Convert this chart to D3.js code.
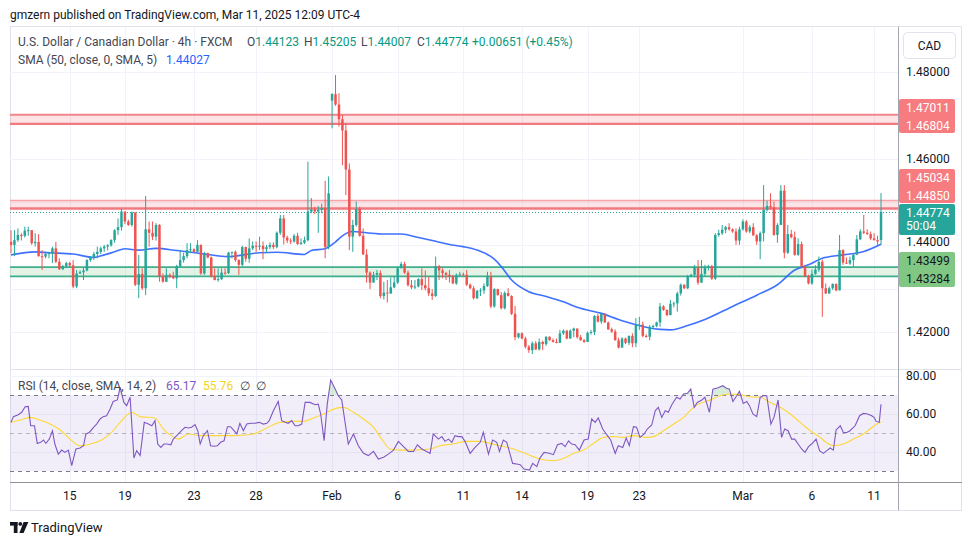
<!DOCTYPE html>
<html><head><meta charset="utf-8">
<script src="https://cdn.jsdelivr.net/npm/d3@7/dist/d3.min.js"></script>
<style>html,body{margin:0;padding:0;background:#fff}svg{display:block}</style>
</head><body>
<svg id="chart" width="970" height="545"></svg>
<script>
// ================= DATA (USD/CAD, 4h, FXCM) =================
const openP=[
1.4408,1.4401,1.4412,1.4424,1.4422,1.4434,1.4435,1.4405,1.4408,1.4375,
1.4374,1.4380,1.4382,1.4393,1.4362,1.4345,1.4352,1.4359,1.4354,1.4305,
1.4335,1.4338,1.4342,1.4366,1.4372,1.4380,1.4385,1.4393,1.4397,1.4400,
1.4412,1.4435,1.4442,1.4478,1.4455,1.4447,1.4476,1.4309,1.4334,1.4301,
1.4437,1.4429,1.4420,1.4447,1.4328,1.4316,1.4332,1.4328,1.4324,1.4352,
1.4366,1.4375,1.4389,1.4391,1.4385,1.4401,1.4335,1.4382,1.4372,1.4328,
1.4320,1.4322,1.4337,1.4336,1.4383,1.4385,1.4366,1.4355,1.4396,1.4369,
1.4393,1.4399,1.4397,1.4399,1.4391,1.4396,1.4401,1.4396,1.4429,1.4462,
1.4418,1.4411,1.4409,1.4422,1.4403,1.4406,1.4412,1.4478,1.4483,1.4478,
1.4482,1.4486,1.4396,1.4734,1.4749,1.4725,1.4691,1.4665,1.4575,1.4420,
1.4447,1.4484,1.4422,1.4379,1.4337,1.4314,1.4332,1.4336,1.4283,1.4291,
1.4289,1.4303,1.4314,1.4347,1.4357,1.4337,1.4308,1.4303,1.4305,1.4322,
1.4308,1.4301,1.4289,1.4283,1.4352,1.4342,1.4336,1.4332,1.4328,1.4312,
1.4332,1.4333,1.4332,1.4309,1.4301,1.4278,1.4295,1.4296,1.4306,1.4328,
1.4259,1.4299,1.4285,1.4255,1.4290,1.4283,1.4242,1.4188,1.4197,1.4185,
1.4166,1.4158,1.4174,1.4160,1.4177,1.4172,1.4189,1.4181,1.4177,1.4175,
1.4197,1.4203,1.4185,1.4203,1.4208,1.4188,1.4181,1.4177,1.4198,1.4200,
1.4237,1.4224,1.4242,1.4222,1.4206,1.4201,1.4181,1.4164,1.4185,1.4175,
1.4191,1.4174,1.4216,1.4217,1.4191,1.4189,1.4212,1.4214,1.4222,1.4259,
1.4251,1.4239,1.4265,1.4266,1.4289,1.4309,1.4301,1.4329,1.4332,1.4349,
1.4314,1.4334,1.4349,1.4352,1.4323,1.4424,1.4428,1.4436,1.4442,1.4437,
1.4432,1.4411,1.4437,1.4455,1.4432,1.4442,1.4423,1.4409,1.4428,1.4482,
1.4491,1.4488,1.4424,1.4447,1.4526,1.4383,1.4426,1.4419,1.4378,1.4403,
1.4351,1.4329,1.4312,1.4334,1.4344,1.4362,1.4301,1.4289,1.4301,1.4311,
1.4296,1.4389,1.4360,1.4358,1.4366,1.4378,1.4414,1.4432,1.4429,1.4426,
1.4416,1.4412,1.44123];
const highP=[
1.4435,1.4435,1.4439,1.4428,1.4443,1.4443,1.4435,1.4428,1.4426,1.4389,
1.4383,1.4385,1.4397,1.4408,1.4370,1.4355,1.4362,1.4362,1.4366,1.4343,
1.4342,1.4349,1.4368,1.4375,1.4385,1.4397,1.4397,1.4401,1.4403,1.4414,
1.4437,1.4462,1.4484,1.4478,1.4459,1.4478,1.4476,1.4378,1.4347,1.4514,
1.4455,1.4455,1.4451,1.4449,1.4335,1.4347,1.4335,1.4339,1.4355,1.4388,
1.4383,1.4405,1.4405,1.4393,1.4412,1.4402,1.4385,1.4383,1.4374,1.4347,
1.4347,1.4347,1.4347,1.4385,1.4385,1.4388,1.4368,1.4399,1.4397,1.4416,
1.4409,1.4409,1.4420,1.4409,1.4401,1.4407,1.4407,1.4432,1.4470,1.4470,
1.4422,1.4416,1.4426,1.4429,1.4416,1.4420,1.4593,1.4509,1.4489,1.4491,
1.4496,1.4549,1.4559,1.4751,1.4793,1.4751,1.4701,1.4682,1.4589,1.4459,
1.4501,1.4489,1.4439,1.4391,1.4340,1.4339,1.4343,1.4342,1.4316,1.4320,
1.4326,1.4328,1.4351,1.4362,1.4362,1.4342,1.4320,1.4320,1.4324,1.4347,
1.4342,1.4328,1.4299,1.4374,1.4355,1.4347,1.4339,1.4343,1.4332,1.4335,
1.4339,1.4337,1.4343,1.4312,1.4306,1.4297,1.4301,1.4312,1.4339,1.4339,
1.4301,1.4300,1.4292,1.4294,1.4301,1.4285,1.4260,1.4198,1.4199,1.4189,
1.4170,1.4178,1.4179,1.4185,1.4180,1.4190,1.4190,1.4185,1.4185,1.4205,
1.4206,1.4205,1.4206,1.4210,1.4208,1.4193,1.4184,1.4201,1.4205,1.4239,
1.4242,1.4243,1.4243,1.4224,1.4210,1.4206,1.4187,1.4188,1.4187,1.4192,
1.4197,1.4232,1.4235,1.4224,1.4195,1.4216,1.4217,1.4224,1.4267,1.4262,
1.4252,1.4274,1.4270,1.4293,1.4312,1.4310,1.4332,1.4334,1.4355,1.4366,
1.4366,1.4355,1.4355,1.4355,1.4428,1.4436,1.4447,1.4445,1.4451,1.4439,
1.4439,1.4443,1.4460,1.4458,1.4447,1.4451,1.4426,1.4432,1.4539,1.4503,
1.4520,1.4501,1.4451,1.4539,1.4539,1.4447,1.4436,1.4432,1.4416,1.4409,
1.4355,1.4332,1.4344,1.4354,1.4374,1.4367,1.4312,1.4305,1.4312,1.4312,
1.4424,1.4391,1.4372,1.4374,1.4381,1.4424,1.4437,1.4470,1.4437,1.4432,
1.4428,1.4422,1.45205];
const lowP=[
1.4382,1.4375,1.4408,1.4411,1.4418,1.4422,1.4401,1.4397,1.4374,1.4343,
1.4370,1.4370,1.4359,1.4359,1.4343,1.4343,1.4348,1.4349,1.4301,1.4301,
1.4334,1.4320,1.4340,1.4362,1.4366,1.4370,1.4380,1.4385,1.4388,1.4397,
1.4406,1.4424,1.4434,1.4449,1.4445,1.4443,1.4306,1.4278,1.4297,1.4285,
1.4397,1.4412,1.4411,1.4316,1.4314,1.4315,1.4324,1.4322,1.4301,1.4349,
1.4360,1.4370,1.4382,1.4383,1.4383,1.4332,1.4332,1.4370,1.4326,1.4319,
1.4316,1.4320,1.4332,1.4334,1.4370,1.4362,1.4332,1.4352,1.4362,1.4360,
1.4389,1.4385,1.4389,1.4368,1.4382,1.4391,1.4391,1.4393,1.4424,1.4402,
1.4405,1.4403,1.4406,1.4401,1.4401,1.4403,1.4409,1.4474,1.4472,1.4429,
1.4474,1.4370,1.4391,1.4670,1.4722,1.4674,1.4585,1.4516,1.4389,1.4385,
1.4443,1.4420,1.4378,1.4314,1.4299,1.4314,1.4320,1.4278,1.4275,1.4268,
1.4288,1.4301,1.4311,1.4347,1.4334,1.4305,1.4299,1.4299,1.4303,1.4297,
1.4296,1.4283,1.4274,1.4281,1.4320,1.4324,1.4320,1.4314,1.4311,1.4309,
1.4328,1.4329,1.4306,1.4299,1.4275,1.4276,1.4283,1.4288,1.4304,1.4255,
1.4256,1.4284,1.4252,1.4252,1.4282,1.4239,1.4181,1.4185,1.4183,1.4162,
1.4152,1.4149,1.4158,1.4157,1.4158,1.4168,1.4180,1.4176,1.4174,1.4175,
1.4193,1.4183,1.4184,1.4188,1.4185,1.4180,1.4175,1.4178,1.4194,1.4193,
1.4222,1.4219,1.4221,1.4205,1.4198,1.4180,1.4162,1.4164,1.4172,1.4170,
1.4165,1.4165,1.4205,1.4188,1.4187,1.4181,1.4208,1.4211,1.4212,1.4249,
1.4237,1.4239,1.4257,1.4247,1.4284,1.4299,1.4299,1.4326,1.4326,1.4309,
1.4313,1.4329,1.4342,1.4320,1.4320,1.4420,1.4424,1.4428,1.4434,1.4429,
1.4401,1.4401,1.4434,1.4429,1.4428,1.4422,1.4401,1.4368,1.4409,1.4478,
1.4483,1.4422,1.4406,1.4447,1.4370,1.4380,1.4416,1.4376,1.4376,1.4347,
1.4326,1.4310,1.4309,1.4332,1.4339,1.4235,1.4288,1.4288,1.4297,1.4294,
1.4296,1.4355,1.4357,1.4355,1.4351,1.4382,1.4412,1.4426,1.4424,1.4412,
1.4411,1.4401,1.44007];
const closeP=[
1.4401,1.4412,1.4424,1.4422,1.4434,1.4435,1.4405,1.4408,1.4375,1.4374,
1.4380,1.4382,1.4393,1.4362,1.4345,1.4352,1.4359,1.4354,1.4305,1.4335,
1.4338,1.4342,1.4366,1.4372,1.4380,1.4385,1.4393,1.4397,1.4400,1.4412,
1.4435,1.4442,1.4478,1.4455,1.4447,1.4476,1.4309,1.4334,1.4301,1.4437,
1.4429,1.4420,1.4447,1.4328,1.4316,1.4332,1.4328,1.4324,1.4352,1.4366,
1.4375,1.4389,1.4391,1.4385,1.4401,1.4335,1.4382,1.4372,1.4328,1.4320,
1.4322,1.4337,1.4336,1.4383,1.4385,1.4366,1.4355,1.4396,1.4369,1.4393,
1.4399,1.4397,1.4399,1.4391,1.4396,1.4401,1.4396,1.4429,1.4462,1.4418,
1.4411,1.4409,1.4422,1.4403,1.4406,1.4412,1.4478,1.4483,1.4478,1.4482,
1.4486,1.4396,1.4520,1.4749,1.4725,1.4691,1.4665,1.4575,1.4420,1.4447,
1.4484,1.4422,1.4379,1.4337,1.4314,1.4332,1.4336,1.4283,1.4291,1.4289,
1.4303,1.4314,1.4347,1.4357,1.4337,1.4308,1.4303,1.4305,1.4322,1.4308,
1.4301,1.4289,1.4283,1.4352,1.4342,1.4336,1.4332,1.4328,1.4312,1.4332,
1.4333,1.4332,1.4309,1.4301,1.4278,1.4295,1.4296,1.4306,1.4328,1.4259,
1.4299,1.4285,1.4255,1.4290,1.4283,1.4242,1.4188,1.4197,1.4185,1.4166,
1.4158,1.4174,1.4160,1.4177,1.4172,1.4189,1.4181,1.4177,1.4175,1.4197,
1.4203,1.4185,1.4203,1.4208,1.4188,1.4181,1.4177,1.4198,1.4200,1.4237,
1.4224,1.4242,1.4222,1.4206,1.4201,1.4181,1.4164,1.4185,1.4175,1.4191,
1.4174,1.4216,1.4217,1.4191,1.4189,1.4212,1.4214,1.4222,1.4259,1.4251,
1.4239,1.4265,1.4266,1.4289,1.4309,1.4301,1.4329,1.4332,1.4349,1.4314,
1.4334,1.4349,1.4352,1.4323,1.4424,1.4428,1.4436,1.4442,1.4437,1.4432,
1.4411,1.4437,1.4455,1.4432,1.4442,1.4423,1.4409,1.4428,1.4482,1.4491,
1.4488,1.4424,1.4447,1.4526,1.4383,1.4426,1.4419,1.4378,1.4403,1.4351,
1.4329,1.4312,1.4334,1.4344,1.4362,1.4301,1.4289,1.4301,1.4311,1.4296,
1.4389,1.4360,1.4358,1.4366,1.4378,1.4414,1.4432,1.4429,1.4426,1.4416,
1.4412,1.4409,1.44774];

// SMA(50) read at [bar index, value]
const smaLine=[[0,1.4378],[7,1.4385],[11,1.4383],[18,1.4380],[24,1.4372],[27,1.4378],[30,1.4385],[33,1.4392],[37,1.4389],[42,1.4393],[48,1.4388],[56,1.4380],[63,1.4374],[72,1.4383],[77,1.4384],[85,1.4379],[87,1.4388],[91,1.4392],[94,1.4408],[96,1.4422],[99,1.4432],[103,1.4429],[108,1.4426],[113,1.4426],[118,1.4418],[122,1.4411],[127,1.4402],[131,1.4397],[135,1.4389],[140,1.4368],[142,1.4351],[145,1.4320],[150,1.4293],[155,1.4282],[160,1.4270],[164,1.4257],[171,1.4243],[176,1.4229],[180,1.4219],[184,1.4211],[188,1.4206],[191,1.4205],[196,1.4215],[201,1.4229],[209,1.4259],[216,1.4285],[222,1.4309],[227,1.4343],[231,1.4355],[235,1.4370],[241,1.4378],[247,1.4386],[252,1.44027]];

// RSI(14) read at [bar index, value]
const rsiLine=[[0,55.6],[0.7,58.6],[2.1,59.6],[3.1,60.9],[4.1,63.8],[5,64.0],[5.7,53.8],[6.8,53.8],[7.6,44.5],[8.6,45.1],[9.4,46.3],[10.1,44.5],[11.1,46.8],[12,51.2],[12.7,44.2],[13.7,38.9],[14.7,41.0],[15.6,39.8],[16.6,41.0],[17.6,32.8],[18.8,41.6],[20,42.1],[21,43.3],[21.7,49.5],[22.7,50.3],[23.9,53.0],[24.8,54.7],[25.8,57.4],[26.7,58.6],[27.7,59.1],[28.7,62.6],[29.6,66.6],[30.8,67.4],[31.6,74.0],[32.7,66.1],[33.5,64.4],[34.5,68.8],[35.6,36.8],[36.4,40.7],[37.4,38.1],[38.6,55.6],[39.8,54.7],[40.8,53.8],[41.7,56.5],[42.5,44.2],[43.4,42.4],[44.3,44.2],[45.3,44.2],[46.3,43.8],[47,46.8],[48,48.6],[49.4,51.2],[50.4,53.0],[51.4,52.6],[52.3,53.0],[53.3,54.4],[54.1,51.2],[54.8,44.2],[55.7,48.6],[56.9,51.2],[57.8,43.3],[58.8,43.0],[59.8,43.3],[60.7,45.1],[61.7,45.9],[62.7,53.3],[63.6,53.3],[64.6,51.2],[65.4,49.5],[66.3,55.1],[67.3,51.2],[68.3,54.7],[69.4,55.1],[70.7,55.1],[71.9,55.6],[73.1,54.7],[74.1,55.1],[74.8,56.5],[76,61.7],[77.4,66.6],[78.4,56.5],[79.4,55.6],[80.3,55.1],[81.3,56.5],[82.3,53.8],[83.2,53.8],[84.2,54.7],[85.2,66.1],[86.6,66.1],[88.1,64.9],[89,65.2],[89.7,60.0],[90.7,45.9],[91.6,65.2],[92.6,77.9],[93.9,73.1],[94.8,69.6],[95.8,67.4],[97.7,44.2],[99.2,49.5],[100.6,43.3],[102.1,39.3],[103.5,38.1],[105,40.3],[106.4,36.3],[107.9,37.2],[109.3,38.9],[110.8,41.0],[112.2,45.6],[113.7,42.8],[115.1,40.3],[116.6,40.3],[117.7,43.8],[119,41.6],[120.4,40.3],[121.4,39.3],[122.3,49.5],[123.8,46.8],[124.8,48.1],[125.7,45.6],[126.7,46.8],[127.7,45.1],[128.6,48.6],[129.6,48.1],[130.6,48.1],[131.5,45.6],[133,39.3],[134.4,42.4],[135.9,45.1],[136.8,50.3],[138.3,38.9],[139.5,46.3],[140.7,45.1],[141.5,40.3],[142.6,46.3],[143.6,45.1],[145.3,34.0],[146.5,33.7],[147.5,33.3],[148.6,31.0],[150.2,30.5],[151.1,34.0],[152.3,32.3],[153.2,36.8],[154.4,39.8],[155.9,39.3],[157.1,38.6],[158.3,43.8],[159.5,44.5],[160.5,42.8],[161.5,45.9],[162.4,44.2],[163.4,43.8],[164.6,41.0],[166,46.3],[167.2,46.8],[168.2,57.4],[169.2,55.6],[170.1,57.9],[171.4,52.1],[172.4,49.5],[173.7,46.3],[175,39.3],[175.9,43.3],[177.2,42.4],[178.2,47.3],[179.1,43.3],[180.3,53.3],[181.2,53.0],[182.2,47.7],[183.4,49.5],[184.3,52.1],[185.6,54.2],[186.6,61.7],[187.5,63.5],[188.5,58.2],[189.5,61.7],[190.4,60.9],[191.4,64.9],[192.8,68.8],[193.8,67.9],[194.8,70.5],[195.9,70.9],[196.9,73.1],[197.9,63.5],[198.8,66.1],[200.1,67.4],[201,68.8],[202.3,60.9],[203.3,73.1],[204.6,73.7],[206.2,74.9],[207.1,73.7],[208.1,73.1],[209.1,66.6],[210.2,69.6],[211,71.9],[212.1,65.6],[213.1,66.6],[213.9,64.4],[214.9,60.0],[216,58.6],[217,68.8],[217.9,69.6],[218.9,69.6],[220.1,54.7],[221,58.2],[222.2,67.4],[223.2,47.7],[224.1,52.1],[225.1,51.2],[226.1,46.8],[227,46.8],[228,44.2],[229,41.6],[230,39.8],[231,42.8],[231.9,44.2],[233.2,46.8],[234.2,40.7],[235.3,39.3],[236.3,40.7],[237.3,42.1],[238.2,41.0],[239,51.6],[240.2,53.8],[241.1,50.3],[242.1,50.3],[243,51.2],[244.5,53.8],[245.8,59.1],[246.9,60.3],[248.1,60.0],[249.3,59.1],[250,58.2],[250.6,56.1],[251.5,55.6],[252,65.17]];

// RSI-based MA(14) read at [bar index, value]
const rsiMaLine=[[0,55.6],[2.6,56.8],[5.5,58.2],[8.4,56.8],[11.3,54.7],[14.2,51.6],[17.1,46.8],[20,43.3],[22.9,44.2],[25.8,45.9],[28.7,49.5],[31.6,55.6],[35,60.9],[37.4,58.6],[41.7,57.9],[44.1,52.1],[46.5,48.6],[48.5,46.8],[51.4,49.5],[54.7,48.6],[59.6,48.6],[64.4,48.6],[70.2,49.5],[74.1,52.6],[77.9,55.6],[81.8,56.1],[84.7,56.1],[87.6,57.9],[90.5,60.0],[92.4,61.7],[94.3,63.1],[96.3,63.5],[99.2,60.9],[102.1,57.4],[105,53.0],[107.4,46.8],[109.8,41.6],[112.7,41.0],[116.5,41.0],[121.4,41.6],[124.3,43.3],[128.1,44.2],[132,45.6],[135.9,45.6],[138.8,44.5],[141.7,43.3],[145.5,41.6],[149.4,38.9],[153.2,36.3],[157.1,35.4],[160,36.6],[162.9,39.3],[165.8,41.0],[168.7,44.5],[171.6,47.7],[174.5,48.1],[177.4,47.7],[180.3,48.6],[184.1,47.7],[186.1,48.1],[189,51.2],[191.9,54.7],[194.8,58.2],[197.7,63.5],[199.6,65.6],[202.5,67.4],[205.4,69.6],[208.3,70.5],[211.2,70.2],[214.1,69.1],[217,68.8],[219.9,66.1],[222.8,63.5],[225.7,60.0],[228.6,55.6],[231.5,51.2],[234.4,47.7],[236.3,44.8],[238.2,43.3],[241.1,44.2],[244,46.8],[246.9,49.5],[248.8,52.1],[250.8,54.7],[252,55.76]];

const xTickIdx=[17,33,53,71,93,112,131,148,167,182,212,232,250];
const xTickLabels=["15","19","23","28","Feb","6","11","14","19","23","Mar","6","11"];
const priceTickVals=[1.42,1.44,1.46,1.48];
const priceGridVals=[1.42,1.43,1.44,1.45,1.46,1.47,1.48];
const rsiTickVals=[40,60,80];
const rsiBandVals=[30,50,70];
const redZones=[[1.47011,1.46804],[1.45034,1.44850]];
const greenZone=[1.43499,1.43284];
const lastClose=1.44774;
const countdown="50:04";
const legendOHLC=[["O","1.44123"],["H","1.45205"],["L","1.44007"],["C","1.44774"]];
const legendChange="+0.00651 (+0.45%)";
const smaLast="1.44027";
const rsiLast="65.17", rsiMaLast="55.76";

// ================= DRAW =================
const W=970,H=545;
const FONT='Roboto, "Noto Sans", "Liberation Sans", sans-serif';
const svg=d3.select("#chart").style("font-family",FONT);
const PL=10,PR=898,PT=27,PB=368,RT=370,RB=482;
const N=closeP.length;
const x=d3.scaleLinear().domain([0,N-1]).range([11,881]);
const yP=d3.scaleLinear().domain([1.42,1.48]).range([332,72]);
const yR=d3.scaleLinear().domain([30,70]).range([471,395]);
const UP="#26a69a",DN="#ef5350";

svg.append("rect").attr("width",W).attr("height",H).attr("fill","#fff");
const defs=svg.append("defs");
defs.append("clipPath").attr("id","cp").append("rect").attr("x",PL).attr("y",PT).attr("width",PR-PL).attr("height",PB-PT);
defs.append("clipPath").attr("id","cr").append("rect").attr("x",PL).attr("y",RT).attr("width",PR-PL).attr("height",RB-RT);
defs.append("clipPath").attr("id","cob").append("rect").attr("x",PL).attr("y",RT).attr("width",PR-PL).attr("height",yR(70)-RT);
defs.append("clipPath").attr("id","cos").append("rect").attr("x",PL).attr("y",yR(30)).attr("width",PR-PL).attr("height",RB-yR(30));

// header
svg.append("text").attr("x",10).attr("y",19).attr("font-size",12).attr("fill","#131722")
  .text("gmzern published on TradingView.com, Mar 11, 2025 12:09 UTC-4");

// container frame
svg.append("rect").attr("x",10.5).attr("y",26.5).attr("width",951).attr("height",484)
  .attr("fill","none").attr("stroke","#e0e3eb");

// grid
const grid=svg.append("g");
grid.selectAll("line.gv").data(xTickIdx).join("line")
  .attr("x1",d=>Math.round(x(d))+0.5).attr("x2",d=>Math.round(x(d))+0.5)
  .attr("y1",PT).attr("y2",RB).attr("stroke","#f0f3fa");
grid.selectAll("line.gp").data(priceGridVals).join("line")
  .attr("x1",PL).attr("x2",PR).attr("y1",d=>Math.round(yP(d))+0.5).attr("y2",d=>Math.round(yP(d))+0.5)
  .attr("stroke","#f0f3fa");
grid.selectAll("line.gr").data(rsiTickVals).join("line")
  .attr("x1",PL).attr("x2",PR).attr("y1",d=>Math.round(yR(d))+0.5).attr("y2",d=>Math.round(yR(d))+0.5)
  .attr("stroke","#f0f3fa");

// zones
const zg=svg.append("g").attr("clip-path","url(#cp)");
redZones.forEach((z,k)=>{
  zg.append("rect").attr("x",PL).attr("width",PR-PL).attr("y",yP(z[0])).attr("height",yP(z[1])-yP(z[0]))
    .attr("fill","rgba(242,54,69,0.13)");
  zg.append("line").attr("x1",PL).attr("x2",PR).attr("y1",yP(z[0])).attr("y2",yP(z[0]))
    .attr("stroke",k===0?"#f3868b":"#f5a3a7").attr("stroke-width",k===0?2:1.5);
  zg.append("line").attr("x1",PL).attr("x2",PR).attr("y1",yP(z[1])).attr("y2",yP(z[1]))
    .attr("stroke","#f07a7f").attr("stroke-width",2.3);
});
zg.append("rect").attr("x",PL).attr("width",PR-PL).attr("y",yP(greenZone[0])).attr("height",yP(greenZone[1])-yP(greenZone[0]))
  .attr("fill","rgba(76,175,80,0.15)");
greenZone.forEach(v=>zg.append("line").attr("x1",PL).attr("x2",PR).attr("y1",yP(v)).attr("y2",yP(v))
  .attr("stroke","#3fae8c").attr("stroke-width",1.7));

// last price dotted line
zg.append("line").attr("x1",PL).attr("x2",PR).attr("y1",Math.round(yP(lastClose))+0.5).attr("y2",Math.round(yP(lastClose))+0.5)
  .attr("stroke",UP).attr("stroke-width",1).attr("stroke-dasharray","1,2");

// SMA
const pg=svg.append("g").attr("clip-path","url(#cp)");
pg.append("path").datum(smaLine)
  .attr("d",d3.line().x(d=>x(d[0])).y(d=>yP(d[1])).curve(d3.curveMonotoneX))
  .attr("fill","none").attr("stroke","#2962ff").attr("stroke-width",1.6).attr("stroke-opacity",0.9);

// candles
const idx=d3.range(N);
const bw=2.5;
pg.selectAll("line.wick").data(idx).join("line")
  .attr("x1",i=>x(i)).attr("x2",i=>x(i))
  .attr("y1",i=>yP(highP[i])).attr("y2",i=>yP(lowP[i]))
  .attr("stroke",i=>closeP[i]>=openP[i]?UP:DN).attr("stroke-width",1);
pg.selectAll("rect.body").data(idx).join("rect")
  .attr("x",i=>x(i)-bw/2).attr("width",bw)
  .attr("y",i=>yP(Math.max(openP[i],closeP[i])))
  .attr("height",i=>Math.max(1,Math.abs(yP(openP[i])-yP(closeP[i]))))
  .attr("fill",i=>closeP[i]>=openP[i]?UP:DN);

// panel separator and axes lines
svg.append("line").attr("x1",10).attr("x2",962).attr("y1",369.5).attr("y2",369.5).attr("stroke","#e0e3eb");
svg.append("line").attr("x1",10).attr("x2",962).attr("y1",482.5).attr("y2",482.5).attr("stroke","#8f929b");
svg.append("line").attr("x1",898.5).attr("x2",898.5).attr("y1",26.5).attr("y2",510.5).attr("stroke","#a3a6af");

// RSI pane
const rg=svg.append("g").attr("clip-path","url(#cr)");
rg.append("rect").attr("x",PL).attr("width",PR-PL).attr("y",yR(70)).attr("height",yR(30)-yR(70))
  .attr("fill","rgba(126,87,194,0.1)");
rsiBandVals.forEach(v=>rg.append("line").attr("x1",PL).attr("x2",PR)
  .attr("y1",Math.round(yR(v))+0.5).attr("y2",Math.round(yR(v))+0.5)
  .attr("stroke","#787b86").attr("stroke-opacity",v===50?0.5:1).attr("stroke-dasharray","4,4"));
rg.append("path").datum(rsiLine).attr("clip-path","url(#cob)")
  .attr("d",d3.area().x(d=>x(d[0])).y0(yR(70)).y1(d=>yR(d[1])))
  .attr("fill","rgba(76,175,80,0.22)");
rg.append("path").datum(rsiLine).attr("clip-path","url(#cos)")
  .attr("d",d3.area().x(d=>x(d[0])).y0(yR(30)).y1(d=>yR(d[1])))
  .attr("fill","rgba(242,54,69,0.22)");
rg.append("path").datum(rsiMaLine)
  .attr("d",d3.line().x(d=>x(d[0])).y(d=>yR(d[1])).curve(d3.curveMonotoneX))
  .attr("fill","none").attr("stroke","#fdd835").attr("stroke-width",1.1);
rg.append("path").datum(rsiLine)
  .attr("d",d3.line().x(d=>x(d[0])).y(d=>yR(d[1])))
  .attr("fill","none").attr("stroke","#7e57c2").attr("stroke-width",1.1);

// right price axis labels
const ax=svg.append("g").attr("font-size",12).attr("fill","#131722");
priceTickVals.forEach(v=>{
  ax.append("text").attr("x",906).attr("y",v===1.44?yP(v)-4:yP(v)).attr("dy","0.36em").text(v.toFixed(5));
});
rsiTickVals.forEach(v=>{
  ax.append("text").attr("x",906).attr("y",yR(v)).attr("dy","0.36em").text(v.toFixed(2));
});
function tag(y0,h,fill,items){
  const g=svg.append("g").attr("font-size",12);
  g.append("rect").attr("x",899).attr("y",y0).attr("width",56).attr("height",h).attr("rx",2).attr("fill",fill);
  items.forEach(it=>g.append("text").attr("x",906).attr("y",it[1]).attr("dy","0.36em").attr("fill",it[2]).text(it[0]));
}
tag(99,34,"#f77c80",[[redZones[0][0].toFixed(5),107.7,"#fff"],[redZones[0][1].toFixed(5),125.5,"#fff"]]);
tag(169,34,"#f77c80",[[redZones[1][0].toFixed(5),178,"#fff"],[redZones[1][1].toFixed(5),195.5,"#fff"]]);
tag(204,31,UP,[[lastClose.toFixed(5),213,"#fff"],[countdown,226,"#fff"]]);
tag(252,35,"#81c784",[[greenZone[0].toFixed(5),261,"#131722"],[greenZone[1].toFixed(5),278.5,"#131722"]]);

// currency button
svg.append("rect").attr("x",903.5).attr("y",32.5).attr("width",52).attr("height",26).attr("rx",4)
  .attr("fill","#fff").attr("stroke","#e0e3eb");
svg.append("text").attr("x",929.5).attr("y",45.5).attr("dy","0.36em").attr("text-anchor","middle")
  .attr("font-size",12).attr("fill","#131722").text("CAD");

// x axis labels
svg.append("g").attr("font-size",12).attr("fill","#131722").selectAll("text").data(xTickIdx).join("text")
  .attr("x",d=>x(d)).attr("y",496).attr("dy","0.36em").attr("text-anchor","middle")
  .text((d,i)=>xTickLabels[i]);

// legends
const LFS=12;
const lg=svg.append("text").attr("y",46).attr("font-size",LFS).attr("fill","#434651");
lg.append("tspan").attr("x",18).text("U.S. Dollar / Canadian Dollar · 4h · FXCM");
const lx=[247,304,361,417];
legendOHLC.forEach((d,i)=>{
  lg.append("tspan").attr("x",lx[i]).attr("fill","#434651").text(d[0]);
  lg.append("tspan").attr("fill","#089981").text(d[1]);
});
lg.append("tspan").attr("x",472).attr("fill","#089981").text(legendChange);

const sl=svg.append("text").attr("y",63.5).attr("font-size",LFS).attr("fill","#434651");
sl.append("tspan").attr("x",18).text("SMA (50, close, 0, SMA, 5)");
sl.append("tspan").attr("x",166).attr("fill","#2962ff").text(smaLast);

const rl=svg.append("text").attr("y",389.5).attr("font-size",LFS).attr("fill","#434651");
rl.append("tspan").attr("x",18).text("RSI (14, close, SMA, 14, 2)");
rl.append("tspan").attr("x",166).attr("fill","#7e57c2").text(rsiLast);
rl.append("tspan").attr("x",203).attr("fill","#f5d31a").text(rsiMaLast);
rl.append("tspan").attr("x",240).attr("fill","#434651").text("∅");
rl.append("tspan").attr("x",256).attr("fill","#434651").text("∅");

// TradingView logo
const lgo=svg.append("g").attr("fill","#131722");
lgo.append("rect").attr("x",10).attr("y",522).attr("width",7.5).attr("height",3.6);
lgo.append("rect").attr("x",13.8).attr("y",522).attr("width",3.7).attr("height",11);
lgo.append("circle").attr("cx",20.3).attr("cy",523.9).attr("r",1.9);
lgo.append("path").attr("d","M23.6,522 L28.4,522 L23.6,533 L19.4,533 Z");
svg.append("text").attr("x",31).attr("y",532).attr("font-size",13).attr("fill","#131722").text("TradingView");
</script>
</body></html>
